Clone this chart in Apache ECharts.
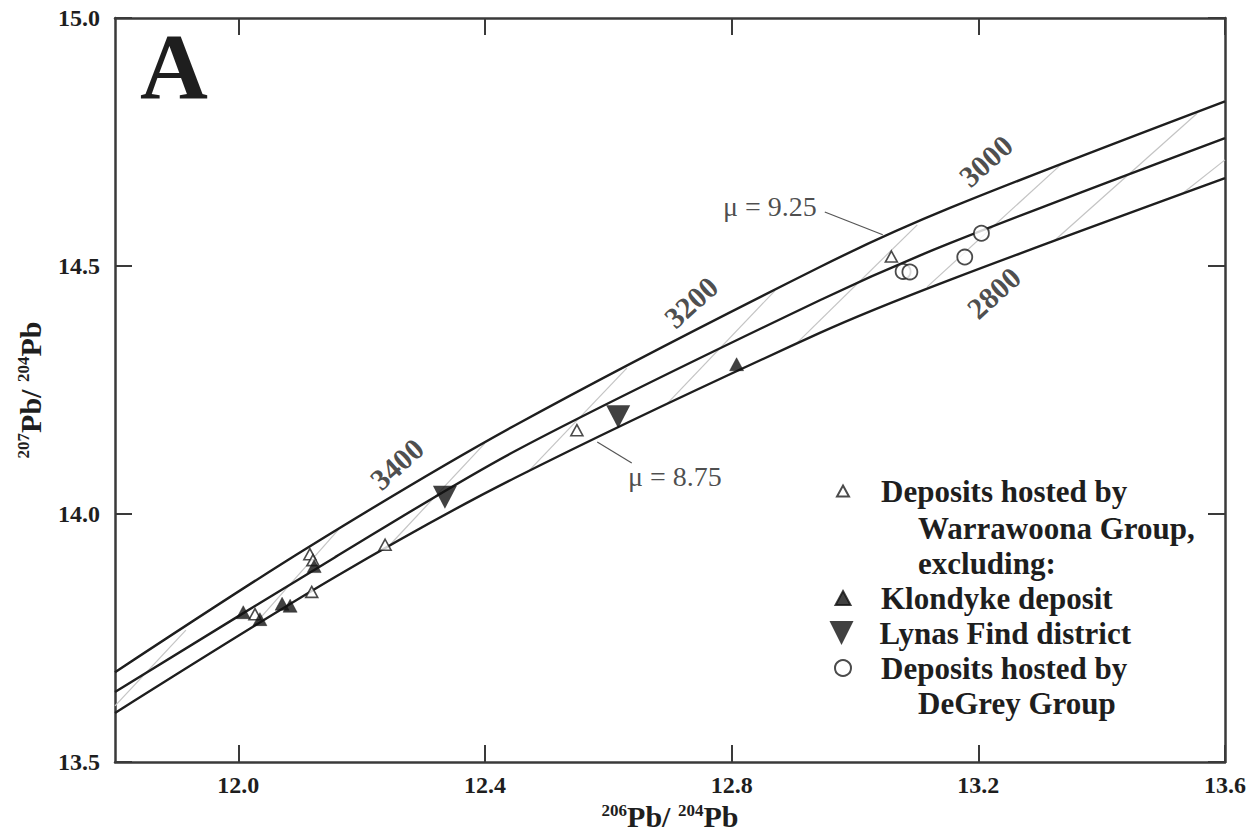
<!DOCTYPE html>
<html>
<head>
<meta charset="utf-8">
<script src="https://cdn.jsdelivr.net/npm/echarts@6/dist/echarts.min.js"></script>
<style>html,body{margin:0;padding:0;background:#fff;}#chart{width:1257px;height:834px;}</style>
</head>
<body>
<div id="chart"></div>
<script>
// ---- data ----
const xTicks = [12.0, 12.4, 12.8, 13.2, 13.6];
const yTicks = [13.5, 14.0, 14.5, 15.0];
// growth curves [206Pb/204Pb, 207Pb/204Pb]
const mu925 = [[11.80,13.681],[12.111,13.931],[12.449,14.179],[12.943,14.498],[13.154,14.617],[13.600,14.832]];
const mu900 = [[11.80,13.641],[12.157,13.913],[12.449,14.127],[12.943,14.431],[13.154,14.546],[13.600,14.758]];
const mu875 = [[11.80,13.599],[12.157,13.873],[12.449,14.073],[12.943,14.365],[13.154,14.472],[13.600,14.677]];
// isochron segments (bottom curve -> top curve)
const isochrons = [
  [[11.800,13.613],[11.915,13.766]],
  [[12.024,13.774],[12.162,13.968]],
  [[12.246,13.938],[12.400,14.143]],
  [[12.468,14.083],[12.630,14.294]],
  [[12.695,14.222],[12.870,14.450]],
  [[12.906,14.345],[13.101,14.583]],
  [[13.117,14.458],[13.337,14.708]],
  [[13.324,14.552],[13.555,14.808]],
  [[13.532,14.647],[13.600,14.714]]
];
// samples
const warrawoona = [[12.116,13.919],[12.121,13.907],[12.119,13.843],[12.238,13.938],[12.027,13.798],[12.549,14.169],[13.059,14.519]];
const klondyke = [[12.123,13.895],[12.008,13.802],[12.035,13.788],[12.071,13.819],[12.084,13.815],[12.808,14.302]];
const lynas = [[12.335,14.034],[12.616,14.196]];
const degrey = [[13.078,14.489],[13.089,14.488],[13.178,14.518],[13.205,14.566]];
// age labels (Ma) and their anchor points
const ageLabels = ['3400','3200','3000','2800'];
const agePoints = [[12.257,14.101],[12.734,14.427],[13.212,14.712],[13.225,14.446]];
// mu labels
const muLabels = ['\u03bc = 9.25','\u03bc = 8.75'];
const muPoints = [[12.938,14.619],[12.632,14.075]];
const muLeaders = [
  [[12.951,14.609],[13.045,14.563]],
  [[12.582,14.145],[12.638,14.103]]
];
const legendNames = {
  Warrawoona: 'Deposits hosted by',
  Klondyke: 'Klondyke deposit',
  Lynas: 'Lynas Find district',
  DeGrey: 'Deposits hosted by'
};

const FONT = "Liberation Serif";
const INK = '#1e1e1e';
const chart = echarts.init(document.getElementById('chart'), null, {renderer: 'svg'});

const axisLine = {show: true, lineStyle: {color: '#3a3a3a', width: 2.5}};
const tickLine = {color: '#3a3a3a', width: 2};
const tickRich = {t: {fontFamily: FONT, fontSize: 24, fontWeight: 'bold', color: INK}};
const fmt = v => '{t|' + Number(v).toFixed(1) + '}';

function legendItem(name, left, top, w, h, pad) {
  return {
    data: [name], left: left, top: top, orient: 'vertical', padding: 0,
    itemWidth: w, itemHeight: h, selectedMode: false,
    formatter: n => legendNames[n],
    textStyle: {fontFamily: FONT, fontSize: 31, fontWeight: 'bold', color: INK, padding: [0, 0, 0, pad]}
  };
}

const nameRich = {
  s: {fontFamily: FONT, fontSize: 17, fontWeight: 'bold', color: INK, verticalAlign: 'top', lineHeight: 30},
  b: {fontFamily: FONT, fontSize: 30, fontWeight: 'bold', color: INK, lineHeight: 30}
};

const option = {
  backgroundColor: '#fff',
  animation: false,
  textStyle: {fontFamily: FONT, color: INK},
  title: {
    text: 'A', left: 135, top: 14,
    textStyle: {fontFamily: FONT, fontSize: 94, fontWeight: 'bold', color: INK}
  },
  grid: {left: 115, right: 32, top: 18, bottom: 72, containLabel: false, outerBoundsMode: 'none'},
  xAxis: [{
    type: 'value', min: 11.8, max: 13.6, position: 'bottom',
    axisLine: axisLine,
    axisTick: {show: true, inside: true, length: 17, customValues: xTicks, lineStyle: tickLine},
    axisLabel: {customValues: xTicks, formatter: fmt, margin: 11, rich: tickRich},
    splitLine: {show: false},
    name: '{s|206}{b|Pb/ }{s|204}{b|Pb}', nameLocation: 'middle', nameGap: 34,
    nameTextStyle: {fontFamily: FONT, rich: nameRich}
  }, {
    type: 'value', min: 11.8, max: 13.6, position: 'top',
    axisLine: axisLine,
    axisTick: {show: true, inside: true, length: 17, customValues: xTicks, lineStyle: tickLine},
    axisLabel: {show: false}, splitLine: {show: false}
  }],
  yAxis: [{
    type: 'value', min: 13.5, max: 15.0, interval: 0.5, position: 'left',
    axisLine: axisLine,
    axisTick: {show: true, inside: true, length: 17, customValues: yTicks, lineStyle: tickLine},
    axisLabel: {customValues: yTicks, formatter: fmt, margin: 15, rich: tickRich},
    splitLine: {show: false},
    name: '{s|207}{b|Pb/ }{s|204}{b|Pb}', nameLocation: 'middle', nameGap: 70, nameRotate: 90,
    nameTextStyle: {fontFamily: FONT, rich: nameRich}
  }, {
    type: 'value', min: 13.5, max: 15.0, interval: 0.5, position: 'right',
    axisLine: axisLine,
    axisTick: {show: true, inside: true, length: 17, customValues: yTicks, lineStyle: tickLine},
    axisLabel: {show: false}, splitLine: {show: false}
  }],
  legend: [
    legendItem('Warrawoona', 836, 475.5, 12, 11, 27),
    legendItem('Klondyke', 834.5, 582.5, 15, 14, 25.5),
    legendItem('Lynas', 829.5, 617.5, 25, 24, 20.5),
    legendItem('DeGrey', 834, 652.5, 16, 16, 25)
  ],
  graphic: [
    {type: 'text', x: 918, y: 528, style: {text: 'Warrawoona Group,', fontFamily: FONT, fontSize: 31, fontWeight: 'bold', fill: INK, verticalAlign: 'middle'}},
    {type: 'text', x: 918, y: 563, style: {text: 'excluding:', fontFamily: FONT, fontSize: 31, fontWeight: 'bold', fill: INK, verticalAlign: 'middle'}},
    {type: 'text', x: 918, y: 703, style: {text: 'DeGrey Group', fontFamily: FONT, fontSize: 31, fontWeight: 'bold', fill: INK, verticalAlign: 'middle'}}
  ],
  series: [
    {
      name: 'isochrons', type: 'lines', coordinateSystem: 'cartesian2d', z: 1,
      lineStyle: {color: '#c4c4c4', width: 1.2, opacity: 1},
      data: isochrons.map(c => ({coords: c})), silent: true
    },
    {
      name: 'leaders', type: 'lines', coordinateSystem: 'cartesian2d', z: 1,
      lineStyle: {color: '#555', width: 1.2, opacity: 1},
      data: muLeaders.map(c => ({coords: c})), silent: true
    },
    {name: 'mu925', type: 'line', data: mu925, smooth: 0.3, showSymbol: false, z: 3, lineStyle: {color: INK, width: 2.4}},
    {name: 'mu900', type: 'line', data: mu900, smooth: 0.3, showSymbol: false, z: 3, lineStyle: {color: INK, width: 2.4}},
    {name: 'mu875', type: 'line', data: mu875, smooth: 0.3, showSymbol: false, z: 3, lineStyle: {color: INK, width: 2.4}},
    {
      name: 'Warrawoona', type: 'scatter', data: warrawoona, z: 5,
      symbol: 'triangle', symbolSize: [12, 11],
      itemStyle: {color: '#fff', borderColor: INK, borderWidth: 1.6}
    },
    {
      name: 'Klondyke', type: 'scatter', data: klondyke, z: 6,
      symbol: 'triangle', symbolSize: [14, 13],
      itemStyle: {color: '#111', borderColor: '#111', borderWidth: 0.5}
    },
    {
      name: 'Lynas', type: 'scatter', data: lynas, z: 6,
      symbol: 'path://M0,0 L10,0 L5,10 Z', symbolSize: [24, 23], symbolKeepAspect: false,
      itemStyle: {color: '#111'}
    },
    {
      name: 'DeGrey', type: 'scatter', data: degrey, z: 5,
      symbol: 'circle', symbolSize: 15,
      itemStyle: {color: '#fff', borderColor: INK, borderWidth: 1.8}
    },
    {
      name: 'ages', type: 'scatter', symbolSize: 0, z: 7, silent: true,
      data: ageLabels.map((t, i) => ({name: t, value: agePoints[i]})),
      label: {show: true, position: 'inside', formatter: p => '{a|' + p.name + '}', rotate: 42,
        rich: {a: {fontFamily: FONT, fontSize: 30, fontWeight: 'bold', color: INK}}}
    },
    {
      name: 'muRight', type: 'scatter', symbolSize: 0, z: 7, silent: true,
      data: [{name: muLabels[0], value: muPoints[0]}],
      label: {show: true, position: 'left', distance: 0, formatter: p => '{m|' + p.name + '}',
        rich: {m: {fontFamily: FONT, fontSize: 28, color: INK}}}
    },
    {
      name: 'muLeft', type: 'scatter', symbolSize: 0, z: 7, silent: true,
      data: [{name: muLabels[1], value: muPoints[1]}],
      label: {show: true, position: 'right', distance: 0, formatter: p => '{m|' + p.name + '}',
        rich: {m: {fontFamily: FONT, fontSize: 28, color: INK}}}
    }
  ]
};
chart.setOption(option);
</script>
</body>
</html>
